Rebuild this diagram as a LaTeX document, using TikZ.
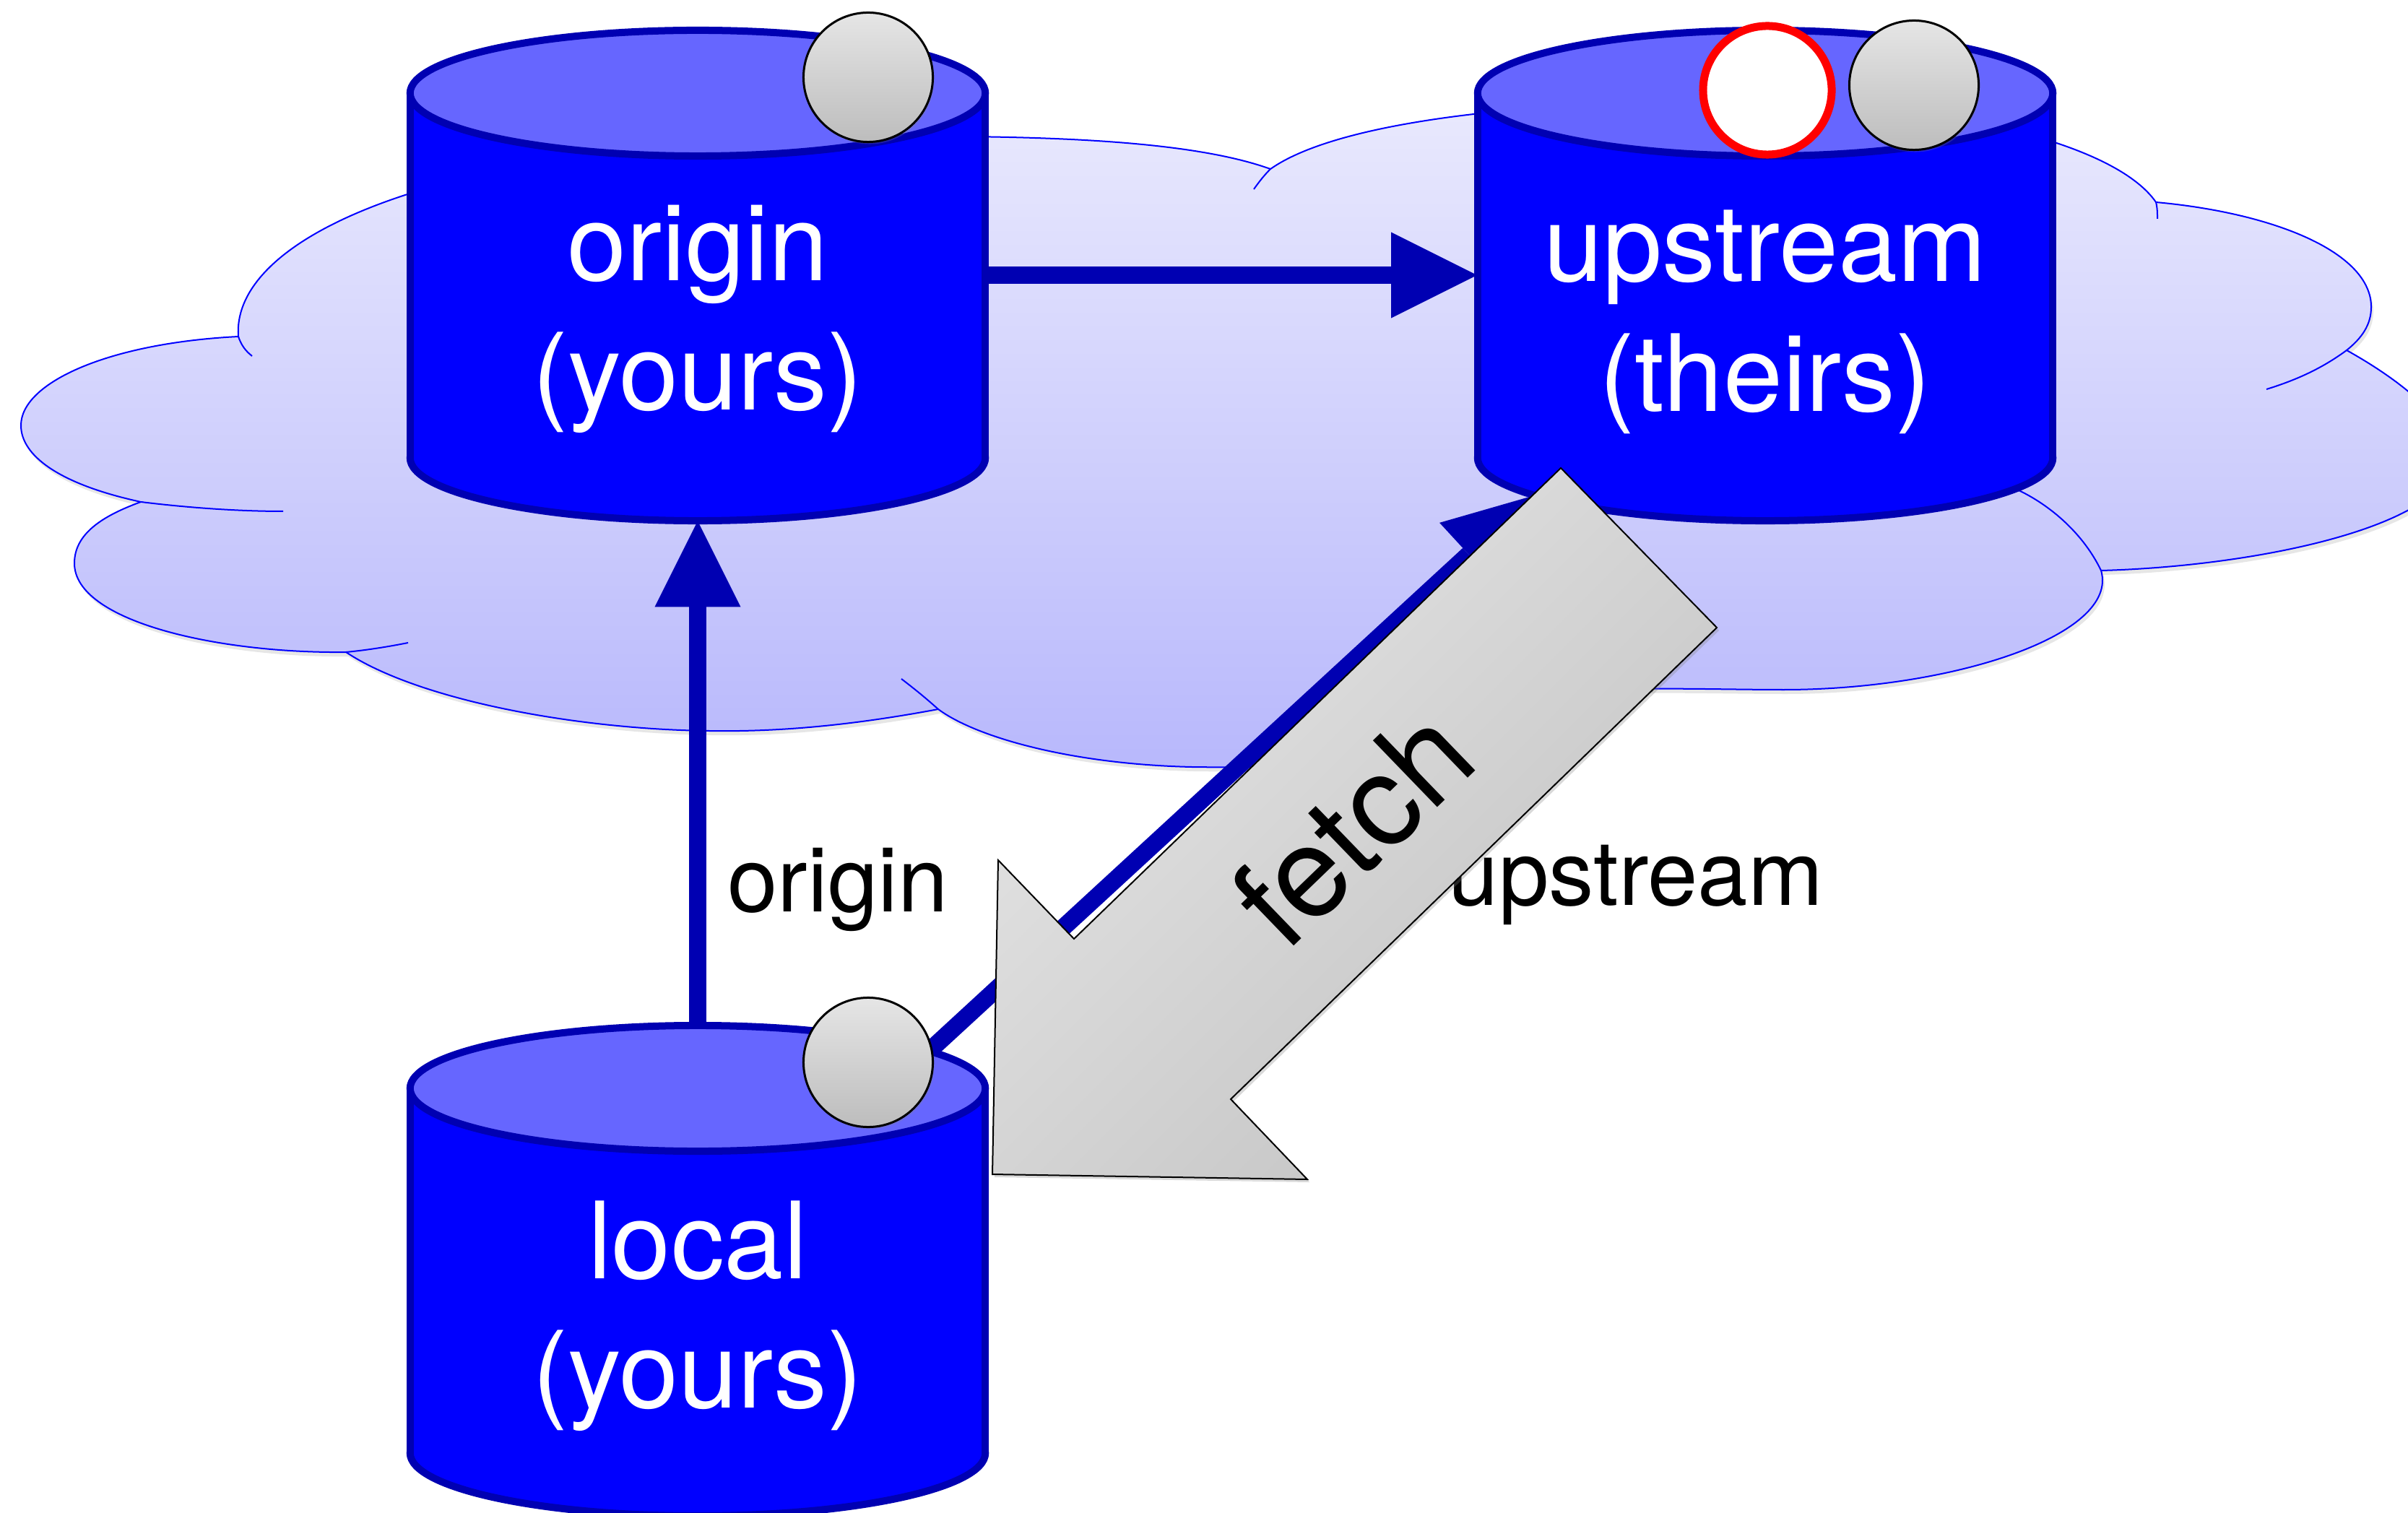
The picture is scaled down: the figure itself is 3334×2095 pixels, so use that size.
\documentclass[tikz,border=0pt]{standalone}
\usepackage{fontspec}
\setmainfont{TeX Gyre Heros}
\usetikzlibrary{arrows.meta,shadows}

\definecolor{repoblue}{RGB}{0,0,255}
\definecolor{repotop}{RGB}{102,102,255}
\definecolor{edgeblue}{RGB}{0,0,178}
\definecolor{cloudtop}{RGB}{233,233,253}
\definecolor{cloudbot}{RGB}{184,184,252}

\tikzset{
	repo/.style={rectangle, minimum width=7.96cm, minimum height=6.79cm, inner sep=0pt},
	cylbody/.style={fill=repoblue, draw=edgeblue, line width=0.1cm},
	cylside/.style={draw=edgeblue, line width=0.1cm},
	cyltop/.style={fill=repotop, draw=edgeblue, line width=0.1cm},
	reponame/.style={text=white, align=center, font=\fontsize{42}{51}\selectfont},
	remotename/.style={anchor=base, font=\fontsize{35.5}{40}\selectfont},
	link/.style={draw=edgeblue, line width=0.24cm, -{Triangle[length=1.19cm, width=1.19cm, line width=0pt]}},
	commit/.style={circle, draw=black, line width=0.03cm, minimum size=1.79cm, inner sep=0pt,
		top color=gray!20, bottom color=gray!52, drop shadow={opacity=0.25, shadow xshift=0.02cm, shadow yshift=-0.03cm}},
	newcommit/.style={circle, draw=red, line width=0.11cm, fill=white, minimum size=1.78cm, inner sep=0pt},
	cloudline/.style={draw=blue, line width=0.02cm},
	fetcharrow/.style={draw=black, line width=0.02cm, top color=gray!20, bottom color=gray!48, shading angle=45,
		drop shadow={opacity=0.3, shadow xshift=0.03cm, shadow yshift=-0.04cm}},
	fetchtext/.style={rotate=44, anchor=base, font=\fontsize{50}{60}\selectfont},
}

\begin{document}
\begin{tikzpicture}[x=0.01cm, y=-0.01cm]
	\useasboundingbox (0,0) rectangle (3334,2095);

	% Cloud
	\path[cloudline, top color=cloudtop, bottom color=cloudbot,
		drop shadow={opacity=0.2, shadow xshift=0.03cm, shadow yshift=-0.06cm}]
		(330,466) .. controls (320,330) and (600,200) .. (1150,190)
		.. controls (1450,185) and (1650,195) .. (1759,234)
		.. controls (1850,170) and (2100,140) .. (2400,140)
		.. controls (2700,140) and (2930,200) .. (2985,280)
		.. controls (3150,295) and (3283,350) .. (3283,425)
		.. controls (3283,450) and (3270,468) .. (3249,485)
		.. controls (3330,530) and (3420,600) .. (3390,660)
		.. controls (3340,740) and (3100,785) .. (2909,790)
		.. controls (2935,880) and (2700,955) .. (2470,955)
		.. controls (2330,955) and (2150,945) .. (2050,980)
		.. controls (2000,1050) and (1850,1065) .. (1650,1062)
		.. controls (1480,1058) and (1350,1020) .. (1299,982)
		.. controls (1150,1010) and (1050,1013) .. (982,1012)
		.. controls (800,1010) and (580,970) .. (479,903)
		.. controls (300,905) and (103,860) .. (103,780)
		.. controls (103,740) and (140,715) .. (195,695)
		.. controls (80,670) and (29,630) .. (29,589)
		.. controls (29,530) and (150,475) .. (330,466) -- cycle;
	\draw[cloudline] (330,466) .. controls (334,478) and (340,486) .. (349,493) % inner strokes
		(195,695) .. controls (260,703) and (330,708) .. (392,708)
		(479,903) .. controls (510,900) and (540,895) .. (565,890)
		(1299,982) .. controls (1280,965) and (1265,953) .. (1248,940)
		(2909,790) .. controls (2885,740) and (2840,700) .. (2793,678)
		(3249,485) .. controls (3215,510) and (3180,526) .. (3138,539)
		(2985,280) .. controls (2987,288) and (2987,296) .. (2987,303)
		(1759,234) .. controls (1750,243) and (1743,252) .. (1736,262);

	% Repositories
	\node[repo] (origin) at (966,381) {};
	\node[repo] (upstream) at (2444,381) {};
	\node[repo] (local) at (966,1759) {};
	\coordinate (fromlocal) at (1215,1521); % under the local commit
	\coordinate (toupstream) at (2121,687); % on the upstream rim

	% Links
	\draw[link] (origin.east) -- (upstream.west);
	\draw[link] (local.north) -- (origin.south);
	\draw[link] (fromlocal) -- (toupstream);

	% Cylinders
	\foreach \cx/\ty in {966/129, 2444/129, 966/1507} {
		\filldraw[cylbody] (\cx,\ty+505) ellipse [x radius=3.98cm, y radius=0.87cm];
		\fill[repoblue] (\cx-398,\ty) rectangle (\cx+398,\ty+505);
		\draw[cylside] (\cx-398,\ty) -- (\cx-398,\ty+505) (\cx+398,\ty) -- (\cx+398,\ty+505);
		\filldraw[cyltop] (\cx,\ty) ellipse [x radius=3.98cm, y radius=0.87cm];
	}
	\node[reponame] (origin-name) at (966,442) {origin\\(yours)};
	\node[reponame] (upstream-name) at (2444,446) {upstream\\(theirs)};
	\node[reponame] (local-name) at (966,1822) {local\\(yours)};

	% Commits
	\node[commit] (origin-head) at (1202,107) {};
	\node[newcommit] (upstream-new) at (2447,125) {};
	\node[commit] (upstream-head) at (2650,118) {};
	\node[commit] (local-head) at (1202,1471) {};

	% Remote names
	\node[remotename] (origin-remote) at (1160,1262) {origin};
	\node[remotename] (upstream-remote) at (2265,1253) {upstream};

	% Fetch arrow
	\filldraw[fetcharrow] (2161,648) -- (2377,869) -- (1704,1522) -- (1810,1633)
		-- (1374,1626) -- (1382,1191) -- (1487,1300) -- cycle;
	\node[fetchtext] (fetch) at (1916,1190) {fetch};
\end{tikzpicture}
\end{document}
